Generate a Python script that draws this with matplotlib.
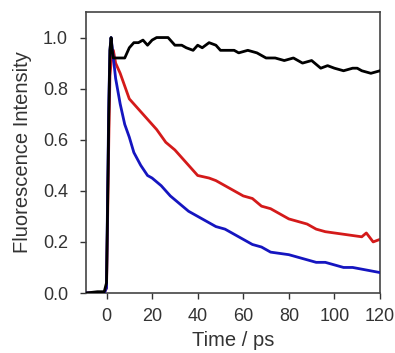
import matplotlib
matplotlib.use('Agg')
import matplotlib.pyplot as plt
import numpy as np

# time axis (ps) and three fluorescence decays
t_black = [-9, -4, -1, 0, 0.5, 1, 1.5, 2, 2.5, 3, 5, 8, 10, 12, 14, 16, 18, 20, 22, 24, 27, 30, 33, 35,
           38, 40, 42, 45, 48, 50, 52, 56, 58, 62, 66, 70, 74, 78, 82, 86, 90, 94, 97, 100,
           104, 108, 110, 112, 116, 120]
black = [0.0, 0.005, 0.005, 0.04, 0.35, 0.7, 0.95, 1.0, 0.95, 0.92, 0.92, 0.92, 0.96, 0.98, 0.98, 0.99,
         0.97, 0.99, 1.0, 1.0, 1.0, 0.97, 0.97, 0.96, 0.95, 0.97, 0.96, 0.98, 0.97, 0.95, 0.95, 0.95,
         0.94, 0.95, 0.94, 0.92, 0.92, 0.91, 0.92, 0.90, 0.91, 0.88, 0.89, 0.88, 0.87, 0.88, 0.88,
         0.87, 0.86, 0.87]

t_red = [-9, -1, 0, 0.5, 1, 1.5, 2, 3, 4, 6, 8, 10, 12, 14, 18, 22, 26, 30, 34, 38, 40, 45, 48, 52,
         56, 60, 64, 68, 72, 76, 80, 84, 88, 92, 96, 100, 104, 108, 112, 114, 117, 120]
red = [0.0, 0.0, 0.02, 0.3, 0.6, 0.85, 0.9, 0.95, 0.9, 0.86, 0.81, 0.76, 0.74, 0.72, 0.68, 0.64, 0.59,
       0.56, 0.52, 0.48, 0.46, 0.45, 0.44, 0.42, 0.40, 0.38, 0.37, 0.34, 0.33, 0.31, 0.29, 0.28,
       0.27, 0.25, 0.24, 0.235, 0.23, 0.225, 0.22, 0.235, 0.20, 0.21]

t_blue = [-9, -1, 0, 0.5, 1, 1.5, 2, 3, 4, 6, 8, 10, 12, 15, 18, 20, 24, 28, 32, 36, 40, 44, 48,
          52, 56, 60, 64, 68, 72, 76, 80, 84, 88, 92, 96, 100, 104, 108, 114, 120]
blue = [0.0, 0.0, 0.02, 0.4, 0.75, 0.95, 1.0, 0.92, 0.84, 0.74, 0.66, 0.61, 0.55, 0.50, 0.46, 0.45,
        0.42, 0.38, 0.35, 0.32, 0.30, 0.28, 0.26, 0.25, 0.23, 0.21, 0.19, 0.18, 0.16, 0.155, 0.15,
        0.14, 0.13, 0.12, 0.12, 0.11, 0.10, 0.10, 0.09, 0.08]

x_ticks = [0, 20, 40, 60, 80, 100, 120]
y_ticks = [0.0, 0.2, 0.4, 0.6, 0.8, 1.0]

plt.rcParams.update({'font.family': 'Liberation Sans', 'font.size': 13})

fig = plt.figure(figsize=(3.95, 3.53), dpi=100)
ax = fig.add_axes([86 / 395, 60 / 353, 294 / 395, 281 / 353])

ax.plot(t_red, red, color='#d41a1a', linewidth=2, zorder=2)
ax.plot(t_blue, blue, color='#1515c0', linewidth=2, zorder=3)
ax.plot(t_black, black, color='black', linewidth=2, zorder=4)

ax.set_xlim(-9, 120)
ax.set_ylim(0, 1.1)
ax.set_xticks(x_ticks)
ax.set_yticks(y_ticks)
ax.set_yticklabels(['%.1f' % v for v in y_ticks])
ax.tick_params(axis='y', pad=9)
ax.tick_params(axis='x', pad=7)
ax.tick_params(direction='out', length=4, width=1, labelsize=13, colors='#333333',
               labelcolor='#333333')

for s in ax.spines.values():
    s.set_color('#444444')
    s.set_linewidth(1.2)

ax.set_xlabel('Time / ps', fontsize=14.5, color='#333333', labelpad=4)
ax.set_ylabel('Fluorescence Intensity', fontsize=14.5, color='#333333', labelpad=8)

fig.savefig('out.png', dpi=100)
